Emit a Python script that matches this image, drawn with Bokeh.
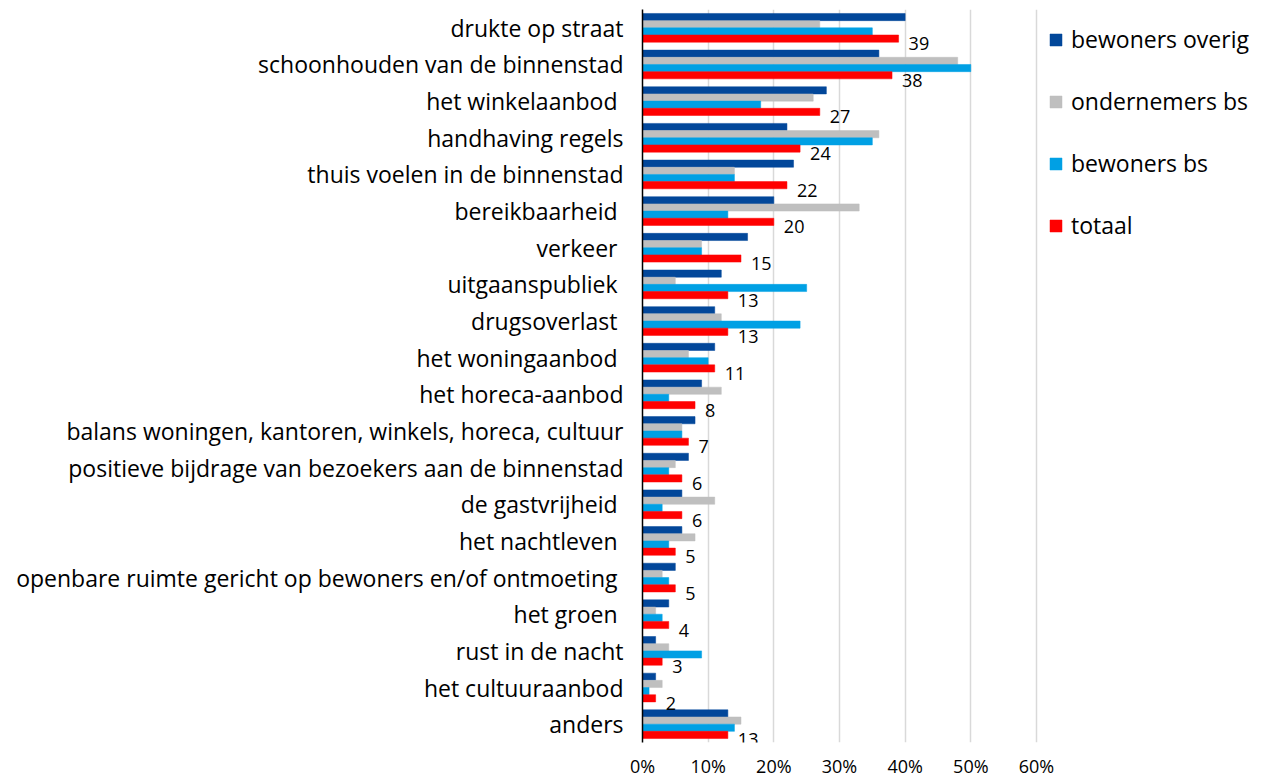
from bokeh.plotting import figure
from bokeh.models import (FactorRange, Range1d, FixedTicker, Legend, LegendItem,
                          ColumnDataSource)
from bokeh.transform import dodge
from bokeh.core.properties import value
from bokeh.embed import file_html
from bokeh.resources import INLINE

categories = [
    "drukte op straat",
    "schoonhouden van de binnenstad",
    "het winkelaanbod ",
    "handhaving regels",
    "thuis voelen in de binnenstad",
    "bereikbaarheid ",
    "verkeer ",
    "uitgaanspubliek ",
    "drugsoverlast ",
    "het woningaanbod ",
    "het horeca-aanbod",
    "balans woningen, kantoren, winkels, horeca, cultuur",
    "positieve bijdrage van bezoekers aan de binnenstad",
    "de gastvrijheid ",
    "het nachtleven ",
    "openbare ruimte gericht op bewoners en/of ontmoeting ",
    "het groen ",
    "rust in de nacht",
    "het cultuuraanbod",
    "anders",
]
bewoners_overig = [40, 36, 28, 22, 23, 20, 16, 12, 11, 11, 9, 8, 7, 6, 6, 5, 4, 2, 2, 13]
ondernemers_bs = [27, 48, 26, 36, 14, 33, 9, 5, 12, 7, 12, 6, 5, 11, 8, 3, 2, 4, 3, 15]
bewoners_bs = [35, 50, 18, 35, 14, 13, 9, 25, 24, 10, 4, 6, 4, 3, 4, 4, 3, 9, 1, 14]
totaal = [39, 38, 27, 24, 22, 20, 15, 13, 13, 11, 8, 7, 6, 6, 5, 5, 4, 3, 2, 13]
series_names = ["bewoners overig", "ondernemers bs", "bewoners bs", "totaal"]
x_ticks = [0, 10, 20, 30, 40, 50, 60]
x_tick_labels = ["0%", "10%", "20%", "30%", "40%", "50%", "60%"]

colors = ["#02479A", "#BFBFBF", "#00A0E4", "#FF0000"]
FONT = "Open Sans"

W, H = 1267, 780
LEFT = 642
PLOT_PX = 394  # pixel width of the 0-60% span
x_end = 60 * (W - LEFT) / PLOT_PX

src = ColumnDataSource(dict(cat=categories, o=bewoners_overig, g=ondernemers_bs,
                            b=bewoners_bs, t=totaal,
                            tl=[str(v) for v in totaal]))

p = figure(width=W, height=H,
           y_range=FactorRange(factors=categories[::-1]),
           x_range=Range1d(0, x_end),
           output_backend="svg", toolbar_location=None,
           min_border_left=LEFT, min_border_right=0,
           min_border_top=9, min_border_bottom=37)
p.outline_line_color = None
p.background_fill_color = "white"

h = 0.196
offs = [0.294, 0.098, -0.098, -0.294]
cols = ["o", "g", "b", "t"]
renderers = []
for c, off, col in zip(cols, offs, colors):
    r = p.hbar(y=dodge("cat", off, range=p.y_range), right=c, left=0, height=h,
               source=src, fill_color=col, line_color=col, line_width=0.5)
    renderers.append(r)

p.text(x="t", y=dodge("cat", -0.294, range=p.y_range), text="tl", source=src,
       x_offset=10, y_offset=5, text_font=value(FONT), text_font_size="18px",
       text_color="#000000", text_align="left", text_baseline="middle")

# axes
p.xaxis.ticker = FixedTicker(ticks=x_ticks)
p.xaxis.major_label_overrides = {t: l for t, l in zip(x_ticks, x_tick_labels)}
p.xaxis.axis_line_color = None
p.xaxis.major_tick_line_color = None
p.xaxis.minor_tick_line_color = None
p.xaxis.major_label_text_font = FONT
p.xaxis.major_label_text_font_size = "18px"
p.xaxis.major_label_text_color = "#000000"
p.xaxis.major_label_standoff = 5

p.yaxis.axis_line_color = "#000000"
p.yaxis.axis_line_width = 1.5
p.yaxis.major_tick_line_color = None
p.yaxis.minor_tick_line_color = None
p.yaxis.major_label_text_font = FONT
p.yaxis.major_label_text_font_size = "23px"
p.yaxis.major_label_text_color = "#000000"
p.yaxis.major_label_standoff = 13

p.xgrid.grid_line_color = "#D9D9D9"
p.xgrid.grid_line_width = 1.5
p.ygrid.grid_line_color = None

legend = Legend(items=[LegendItem(label=n, renderers=[r]) for n, r in zip(series_names, renderers)],
                location=(406, 500), orientation="vertical")
legend.border_line_color = None
legend.background_fill_alpha = 0
legend.margin = 0
legend.padding = 0
legend.glyph_width = 15
legend.glyph_height = 15
legend.label_standoff = 8
legend.label_height = 34
legend.spacing = 28
legend.label_text_font = FONT
legend.label_text_font_size = "23px"
legend.label_text_color = "#000000"
p.add_layout(legend, "center")

open("out.html", "w").write(file_html(p, INLINE))
